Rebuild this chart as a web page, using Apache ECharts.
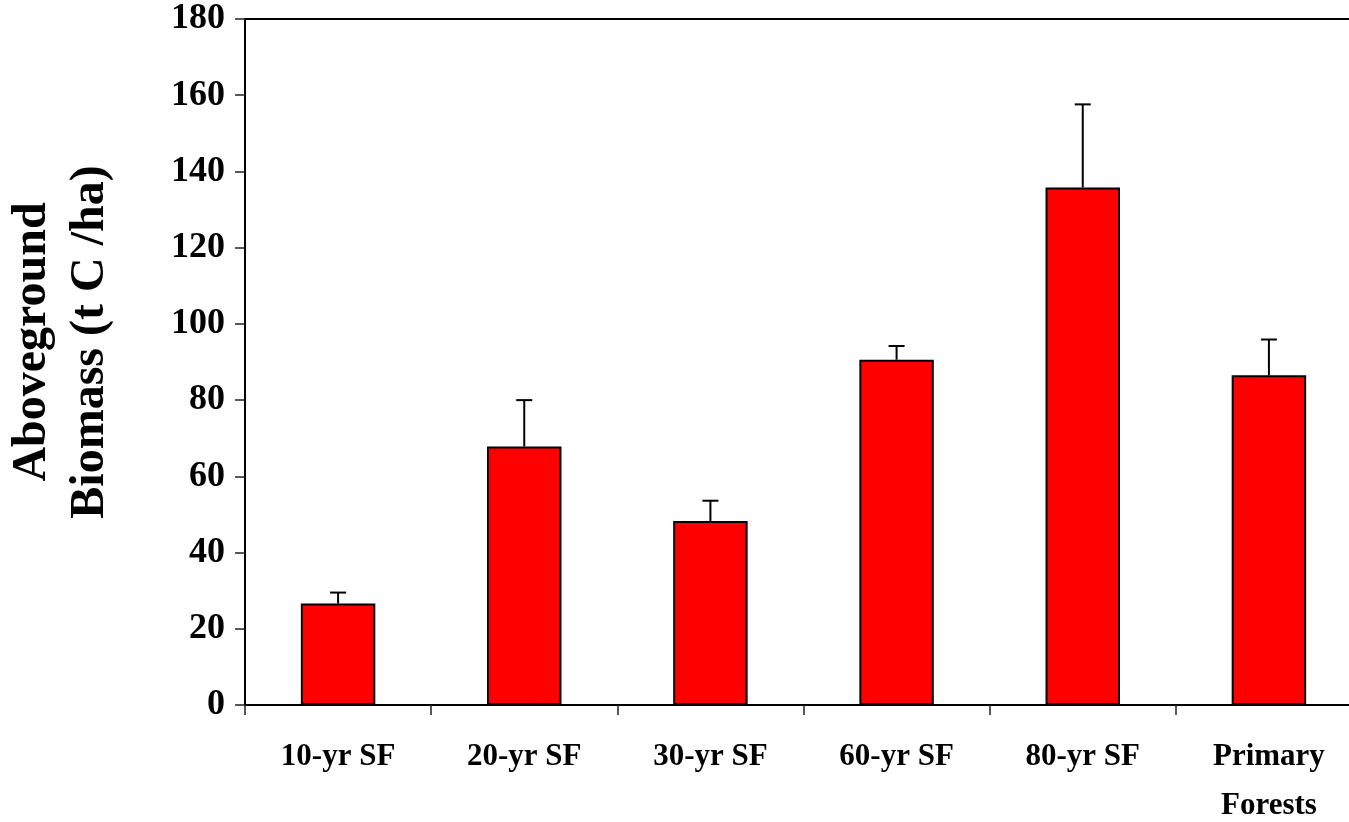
<!DOCTYPE html>
<html>
<head>
<meta charset="utf-8">
<script src="https://cdn.jsdelivr.net/npm/echarts@6/dist/echarts.min.js"></script>
<style>
  html, body { margin: 0; padding: 0; background: #fff; }
  #chart { width: 1349px; height: 822px; }
</style>
</head>
<body>
<div id="chart"></div>
<script>
// Forest stand categories
const categories = ['10-yr SF', '20-yr SF', '30-yr SF', '60-yr SF', '80-yr SF', 'Primary\nForests'];
// Mean aboveground biomass (t C/ha)
const biomassMean = [26.6, 67.8, 48.3, 90.6, 135.8, 86.5];
// Upper error (standard error) above each mean
const biomassErr = [2.9, 12.2, 5.3, 3.6, 21.8, 9.4];
// Value axis ticks
const yTicks = [0, 20, 40, 60, 80, 100, 120, 140, 160, 180];

const serif = "'Liberation Serif', 'Times New Roman', 'DejaVu Serif', serif";

const chart = echarts.init(document.getElementById('chart'), null, { renderer: 'canvas' });

const errorData = biomassMean.map((m, i) => [i, m, m + biomassErr[i]]);

chart.setOption({
  backgroundColor: '#ffffff',
  animation: false,
  grid: {
    left: 245,
    top: 19,
    width: 1117,
    bottom: 117,
    containLabel: false,
    outerBoundsMode: 'none',
    show: true,
    borderColor: '#000',
    borderWidth: 2,
    backgroundColor: 'transparent'
  },
  xAxis: {
    type: 'category',
    data: categories,
    boundaryGap: true,
    axisLine: { show: true, lineStyle: { color: '#000', width: 2 } },
    axisTick: { show: true, length: 10, inside: false, lineStyle: { color: '#222', width: 1.5 } },
    axisLabel: {
      margin: 27,
      fontFamily: serif,
      fontWeight: 'bold',
      fontSize: 31,
      lineHeight: 49,
      color: '#000',
      interval: 0
    },
    splitLine: { show: false }
  },
  yAxis: {
    type: 'value',
    min: yTicks[0],
    max: yTicks[yTicks.length - 1],
    interval: yTicks[1] - yTicks[0],
    axisLine: { show: true, lineStyle: { color: '#000', width: 2 } },
    axisTick: { show: true, length: 10, inside: false, lineStyle: { color: '#222', width: 1.5 } },
    axisLabel: {
      margin: 20,
      fontFamily: serif,
      fontWeight: 'bold',
      fontSize: 36,
      color: '#000'
    },
    splitLine: { show: false }
  },
  graphic: [{
    type: 'text',
    x: 62,
    y: 342,
    rotation: Math.PI / 2,
    style: {
      text: 'Aboveground\nBiomass (t C /ha)',
      font: 'bold 48px ' + serif,
      fill: '#000',
      align: 'center',
      verticalAlign: 'middle',
      lineHeight: 58
    }
  }],
  series: [
    {
      type: 'bar',
      data: biomassMean,
      barWidth: '40%',
      itemStyle: { color: '#ff0000', borderColor: '#000', borderWidth: 2 },
      z: 2
    },
    {
      type: 'custom',
      data: errorData,
      z: 3,
      renderItem: function (params, api) {
        const i = api.value(0);
        const base = api.coord([i, api.value(1)]);
        const top = api.coord([i, api.value(2)]);
        const half = 8;
        return {
          type: 'group',
          children: [
            {
              type: 'line',
              shape: { x1: base[0], y1: base[1], x2: top[0], y2: top[1] },
              style: { stroke: '#000', lineWidth: 2 }
            },
            {
              type: 'line',
              shape: { x1: top[0] - half, y1: top[1], x2: top[0] + half, y2: top[1] },
              style: { stroke: '#000', lineWidth: 2 }
            }
          ]
        };
      }
    }
  ]
});
</script>
</body>
</html>
